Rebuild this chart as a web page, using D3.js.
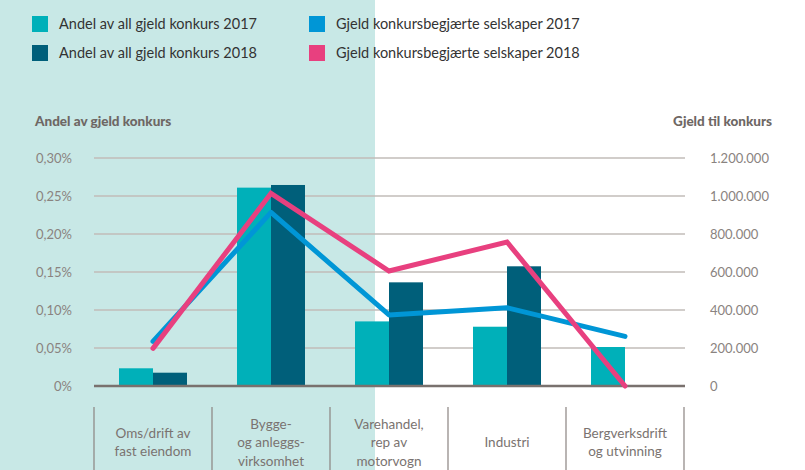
<!DOCTYPE html>
<html><head><meta charset="utf-8">
<script src="https://cdn.jsdelivr.net/npm/d3@7"></script>
<style>
body{margin:0;padding:0;background:#fff;}
svg{display:block;font-family:Lato, "Open Sans", sans-serif;}
</style></head>
<body>
<svg id="chart" width="805" height="470"></svg>
<script>
const categories = [["Oms/drift av","fast eiendom"],["Bygge-","og anleggs-","virksomhet"],["Varehandel,","rep av","motorvogn"],["Industri"],["Bergverksdrift","og utvinning"]];
const andel2017 = [0.0233, 0.261, 0.085, 0.078, 0.0513];
const andel2018 = [0.0175, 0.2645, 0.1364, 0.1575, 0];
const gjeld2017 = [235000, 914000, 374000, 412000, 261000];
const gjeld2018 = [198000, 1014000, 605000, 758000, 0];
const leftTicks = [0, 0.05, 0.10, 0.15, 0.20, 0.25, 0.30];
const rightTicks = [0, 200000, 400000, 600000, 800000, 1000000, 1200000];
const legendItems = [
  {label:"Andel av all gjeld konkurs 2017", color:"#00b0b9"},
  {label:"Andel av all gjeld konkurs 2018", color:"#005f7a"},
  {label:"Gjeld konkursbegjærte selskaper 2017", color:"#0096d6"},
  {label:"Gjeld konkursbegjærte selskaper 2018", color:"#e8407f"}
];

const svg = d3.select("#chart");
svg.append("rect").attr("x",0).attr("y",0).attr("width",375).attr("height",470).attr("fill","#c8e8e6");

const x = d3.scaleBand().domain(d3.range(categories.length)).range([94,684]).paddingInner(0).paddingOuter(0);
const xSub = d3.scaleBand().domain([0,1]).range([0,68]);
const yL = d3.scaleLinear().domain([0,0.30]).range([386,158]);
const yR = d3.scaleLinear().domain([0,1200000]).range([386,158]);

const nfR = v => v===0 ? "0" : d3.format(",")(v).replace(/,/g,".");
const nfL = v => v===0 ? "0%" : d3.format(".2f")(v).replace(".",",")+"%";

// gridlines
svg.append("g").selectAll("line").data(leftTicks.filter(d=>d>0)).join("line")
  .attr("x1",94).attr("x2",685).attr("y1",d=>yL(d)).attr("y2",d=>yL(d))
  .attr("stroke","#c2bdb9").attr("stroke-width",1.5);

// left axis labels
const gl = svg.append("g").attr("transform","translate(72,0)")
  .call(d3.axisLeft(yL).tickValues(leftTicks).tickFormat(nfL).tickSize(0).tickPadding(0));
gl.select(".domain").remove();
gl.selectAll("text").attr("fill","#8a8380").style("font-size","13px").style("font-family","Lato, sans-serif");

// right axis labels
const gr = svg.append("g").attr("transform","translate(710,0)")
  .call(d3.axisRight(yR).tickValues(rightTicks).tickFormat(nfR).tickSize(0).tickPadding(0));
gr.select(".domain").remove();
gr.selectAll("text").attr("fill","#8a8380").style("font-size","13px").style("font-family","Lato, sans-serif");

// axis titles
svg.append("text").attr("x",35).attr("y",126).text("Andel av gjeld konkurs")
  .attr("fill","#6e6764").style("font-size","13.5px").style("font-weight","900");
svg.append("text").attr("x",772).attr("y",126).attr("text-anchor","end").text("Gjeld til konkurs")
  .attr("fill","#6e6764").style("font-size","13.5px").style("font-weight","900");

// bars
const barG = svg.append("g");
categories.forEach((c,i)=>{
  const gx = x(i) + (x.bandwidth()-68)/2;
  [andel2017[i], andel2018[i]].forEach((v,j)=>{
    if(v<=0) return;
    barG.append("rect").attr("x",gx+xSub(j)).attr("width",xSub.bandwidth())
      .attr("y",yL(v)).attr("height",yL(0)-yL(v))
      .attr("fill", j===0 ? "#00b0b9" : "#005f7a");
  });
});

// baseline
svg.append("line").attr("x1",94).attr("x2",685).attr("y1",386).attr("y2",386)
  .attr("stroke","#79716e").attr("stroke-width",2.5);

// lines
const line = d3.line().x((d,i)=>x(i)+x.bandwidth()/2).y(d=>yR(d));
svg.append("path").datum(gjeld2017).attr("d",line).attr("fill","none")
  .attr("stroke","#0096d6").attr("stroke-width",5).attr("stroke-linecap","round").attr("stroke-linejoin","round");
svg.append("path").datum(gjeld2018).attr("d",line).attr("fill","none")
  .attr("stroke","#e8407f").attr("stroke-width",5).attr("stroke-linecap","round").attr("stroke-linejoin","miter");

// category dividers
svg.append("g").selectAll("line").data(d3.range(categories.length+1)).join("line")
  .attr("x1",d=>d<categories.length?x(d):x(categories.length-1)+x.bandwidth())
  .attr("x2",d=>d<categories.length?x(d):x(categories.length-1)+x.bandwidth())
  .attr("y1",407).attr("y2",470).attr("stroke","#8a8380").attr("stroke-width",1.2);

// category labels
categories.forEach((lines,i)=>{
  const cx = x(i)+x.bandwidth()/2;
  const lh = 18.5;
  const startY = 442 - (lines.length-1)*lh/2 + 5;
  const t = svg.append("text").attr("text-anchor","middle").attr("fill","#7a7370").style("font-size","13.5px");
  lines.forEach((l,k)=>{
    t.append("tspan").attr("x",cx).attr("y",startY+k*lh).text(l);
  });
});

// legend
const lg = svg.append("g");
legendItems.forEach((d,i)=>{
  const col = Math.floor(i/2), row = i%2;
  const lx = col===0 ? 32 : 309;
  const ly = 16 + row*29;
  lg.append("rect").attr("x",lx).attr("y",ly).attr("width",16).attr("height",16).attr("fill",d.color);
  lg.append("text").attr("x",lx+27).attr("y",ly+13).text(d.label)
    .attr("fill","#333").style("font-size","14.5px");
});
</script>
</body></html>
